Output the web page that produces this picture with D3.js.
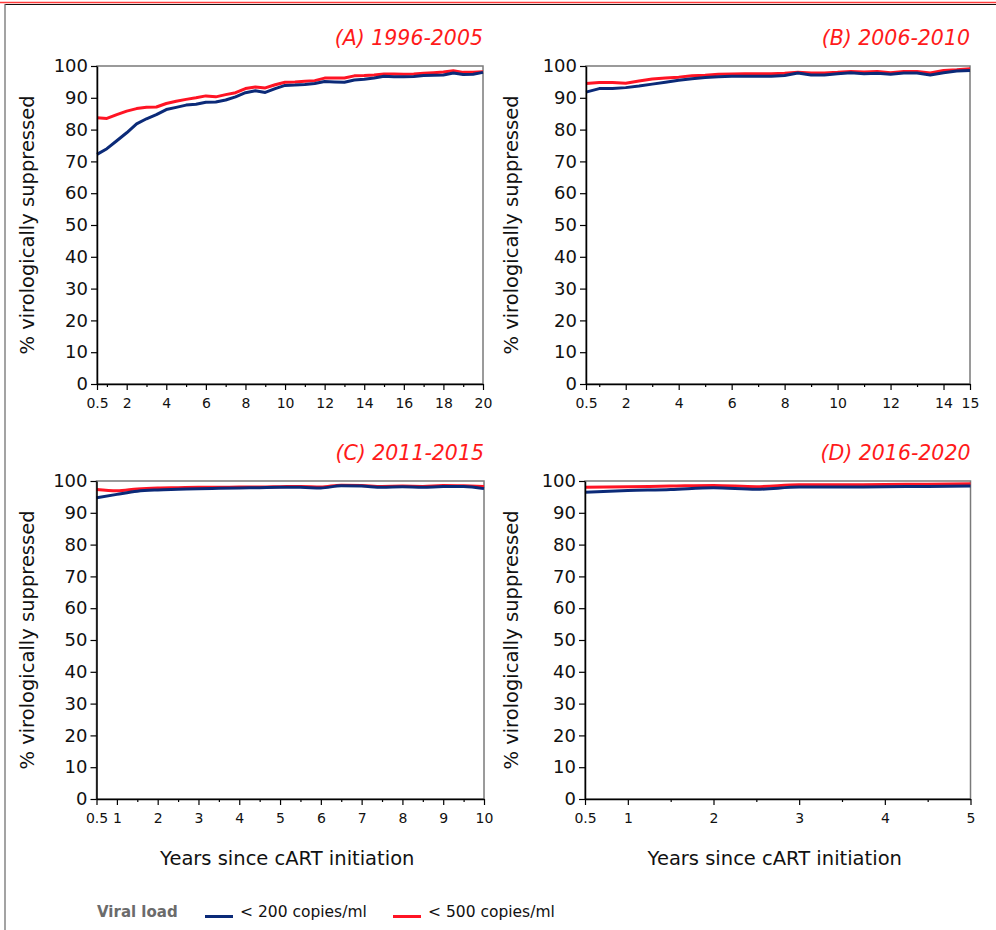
<!DOCTYPE html>
<html>
<head>
<meta charset="utf-8">
<script src="https://cdn.jsdelivr.net/npm/d3@7"></script>
<style>
  html, body { margin: 0; padding: 0; background: #fff; }
  svg { display: block; font-family: "DejaVu Sans", Verdana, sans-serif; }
</style>
</head>
<body>
<svg id="chart" width="996" height="930"></svg>
<script>
// ---- data: % virologically suppressed by years since cART initiation ----
const yearsA = [0.5, 1, 1.5, 2, 2.5, 3, 3.5, 4, 4.5, 5, 5.5, 6, 6.5, 7, 7.5, 8, 8.5, 9, 9.5, 10,
                10.5, 11, 11.5, 12, 12.5, 13, 13.5, 14, 14.5, 15, 15.5, 16, 16.5, 17, 17.5, 18, 18.5, 19, 19.5, 20];
const below200A = [72.2, 74.0, 76.5, 79.0, 81.8, 83.4, 84.7, 86.3, 87.0, 87.7, 88.0, 88.6, 88.7, 89.3, 90.3, 91.6, 92.2, 91.7, 92.9, 93.9,
                   94.0, 94.2, 94.5, 95.1, 95.0, 94.9, 95.6, 95.8, 96.2, 96.8, 96.6, 96.6, 96.7, 97.0, 97.1, 97.2, 97.8, 97.3, 97.4, 98.0];
const below500A = [83.7, 83.5, 84.7, 85.8, 86.6, 87.0, 87.1, 88.2, 88.9, 89.5, 90.0, 90.6, 90.3, 91.0, 91.6, 92.9, 93.4, 93.1, 94.1, 94.9,
                   95.0, 95.2, 95.4, 96.2, 96.2, 96.2, 96.9, 97.0, 97.2, 97.5, 97.5, 97.4, 97.5, 97.7, 97.9, 98.1, 98.5, 98.0, 98.0, 98.2];

const yearsB = [0.5, 1, 1.5, 2, 2.5, 3, 3.5, 4, 4.5, 5, 5.5, 6, 6.5, 7, 7.5, 8, 8.5, 9, 9.5, 10,
                10.5, 11, 11.5, 12, 12.5, 13, 13.5, 14, 14.5, 15];
const below200B = [91.8, 92.9, 92.9, 93.2, 93.7, 94.3, 94.9, 95.5, 96.0, 96.4, 96.6, 96.8, 96.8, 96.8, 96.8, 97.0, 97.8, 97.2, 97.2, 97.6,
                   97.9, 97.6, 97.7, 97.4, 97.8, 97.8, 97.2, 97.9, 98.4, 98.6];
const below500B = [94.5, 94.8, 94.8, 94.6, 95.3, 95.9, 96.2, 96.5, 96.9, 97.1, 97.4, 97.5, 97.6, 97.6, 97.6, 97.7, 98.0, 97.8, 97.8, 98.0,
                   98.3, 98.1, 98.3, 97.9, 98.3, 98.3, 97.8, 98.6, 98.8, 99.1];

const yearsC = [0.5, 1, 1.5, 2, 2.5, 3, 3.5, 4, 4.5, 5, 5.5, 6, 6.5, 7, 7.5, 8, 8.5, 9, 9.5, 10];
const below200C = [94.7, 95.8, 96.8, 97.2, 97.4, 97.6, 97.7, 97.8, 97.9, 98.0, 98.0, 97.8, 98.5, 98.4, 98.0, 98.2, 98.0, 98.3, 98.3, 97.6];
const below500C = [97.3, 96.9, 97.5, 97.8, 97.9, 98.0, 98.0, 98.1, 98.1, 98.2, 98.3, 98.1, 98.7, 98.6, 98.3, 98.4, 98.3, 98.6, 98.5, 98.3];

const yearsD = [0.5, 1, 1.5, 2, 2.5, 3, 3.5, 4, 4.5, 5];
const below200D = [96.5, 97.0, 97.3, 97.9, 97.4, 98.1, 98.1, 98.2, 98.3, 98.4];
const below500D = [98.0, 98.2, 98.4, 98.6, 98.2, 98.8, 98.8, 98.9, 99.0, 99.1];

// axis ticks
const yTicks = [0, 10, 20, 30, 40, 50, 60, 70, 80, 90, 100];
const majorA = [0.5, 2, 4, 6, 8, 10, 12, 14, 16, 18, 20];
const minorA = [1, 3, 5, 7, 9, 11, 13, 15, 17, 19];
const majorB = [0.5, 2, 4, 6, 8, 10, 12, 14, 15];
const minorB = [1, 3, 5, 7, 9, 11, 13];
const majorC = [0.5, 1, 2, 3, 4, 5, 6, 7, 8, 9, 10];
const minorC = [1.5, 2.5, 3.5, 4.5, 5.5, 6.5, 7.5, 8.5, 9.5];
const majorD = [0.5, 1, 2, 3, 4, 5];
const minorD = [1.5, 2.5, 3.5, 4.5];

const panelTitles = ["(A) 1996-2005", "(B) 2006-2010", "(C) 2011-2015", "(D) 2016-2020"];
const seriesNames = ["< 200 copies/ml", "< 500 copies/ml"];
const legendTitle = "Viral load";
const yTitle = "% virologically suppressed";
const xTitle = "Years since cART initiation";

// ---- styling ----
const BLUE = "#0b2a78";
const RED = "#ff1424";
const seriesColors = [BLUE, RED];

const panels = [
  { title: panelTitles[0], x: yearsA, s200: below200A, s500: below500A, major: majorA, minor: minorA,
    left: 97, right: 483, top: 66, bottom: 384, curve: d3.curveLinear, xLabel: false, yTitleX: 34 },
  { title: panelTitles[1], x: yearsB, s200: below200B, s500: below500B, major: majorB, minor: minorB,
    left: 586, right: 970, top: 66, bottom: 384, curve: d3.curveLinear, xLabel: false, yTitleX: 518 },
  { title: panelTitles[2], x: yearsC, s200: below200C, s500: below500C, major: majorC, minor: minorC,
    left: 96.5, right: 484, top: 481, bottom: 799, curve: d3.curveMonotoneX, xLabel: true, yTitleX: 34 },
  { title: panelTitles[3], x: yearsD, s200: below200D, s500: below500D, major: majorD, minor: minorD,
    left: 585, right: 970.5, top: 481, bottom: 799, curve: d3.curveMonotoneX, xLabel: true, yTitleX: 518 }
];

const svg = d3.select("#chart");

// page frame: red rule and black rule at top, grey rule on the left
svg.append("line").attr("x1", 0).attr("x2", 996).attr("y1", 2.5).attr("y2", 2.5)
  .attr("stroke", "#ff3b3b").attr("stroke-width", 1.5);
svg.append("line").attr("x1", 5).attr("x2", 996).attr("y1", 4.5).attr("y2", 4.5)
  .attr("stroke", "#111").attr("stroke-width", 1);
svg.append("line").attr("x1", 5).attr("x2", 5).attr("y1", 4).attr("y2", 930)
  .attr("stroke", "#666").attr("stroke-width", 1.2);

panels.forEach(p => {
  const x = d3.scaleLinear().domain([p.major[0], p.major[p.major.length - 1]]).range([p.left, p.right]);
  const y = d3.scaleLinear().domain([0, 100]).range([p.bottom, p.top]);
  const g = svg.append("g");

  // plot frame
  g.append("rect").attr("x", p.left).attr("y", p.top)
    .attr("width", p.right - p.left).attr("height", p.bottom - p.top)
    .attr("fill", "none").attr("stroke", "#7a7a7a").attr("stroke-width", 1.5);

  // series lines
  const rows = p.x.map((t, i) => ({ t, a: p.s200[i], b: p.s500[i] }));
  const lineA = d3.line().x(d => x(d.t)).y(d => y(d.a)).curve(p.curve);
  const lineB = d3.line().x(d => x(d.t)).y(d => y(d.b)).curve(p.curve);
  g.append("path").datum(rows).attr("d", lineB).attr("fill", "none")
    .attr("stroke", RED).attr("stroke-width", 3).attr("stroke-linejoin", "round");
  g.append("path").datum(rows).attr("d", lineA).attr("fill", "none")
    .attr("stroke", BLUE).attr("stroke-width", 3).attr("stroke-linejoin", "round");

  // y axis
  const ya = g.append("g").attr("transform", `translate(${p.left},0)`)
    .call(d3.axisLeft(y).tickValues(yTicks).tickSize(6).tickPadding(3).tickSizeOuter(0));
  ya.select(".domain").attr("stroke", "#000").attr("stroke-width", 1.5);
  ya.selectAll(".tick line").attr("stroke", "#000").attr("stroke-width", 1.2);
  ya.selectAll(".tick text").attr("font-size", 18).attr("fill", "#111")
    .attr("font-family", "'DejaVu Sans', Verdana, sans-serif");

  // x axis: minor then major ticks
  const xm = g.append("g").attr("transform", `translate(0,${p.bottom})`)
    .call(d3.axisBottom(x).tickValues(p.minor).tickSize(3).tickFormat("").tickSizeOuter(0));
  xm.select(".domain").remove();
  xm.selectAll(".tick line").attr("stroke", "#000").attr("stroke-width", 1.2);

  const xa = g.append("g").attr("transform", `translate(0,${p.bottom})`)
    .call(d3.axisBottom(x).tickValues(p.major).tickSize(6).tickPadding(8).tickSizeOuter(0)
      .tickFormat(d => String(d)));
  xa.select(".domain").attr("stroke", "#000").attr("stroke-width", 1.5);
  xa.selectAll(".tick line").attr("stroke", "#000").attr("stroke-width", 1.2);
  xa.selectAll(".tick text").attr("font-size", 14).attr("fill", "#111")
    .attr("font-family", "'DejaVu Sans', Verdana, sans-serif");

  // panel title
  g.append("text").attr("x", p.right).attr("y", p.top - 21)
    .attr("text-anchor", "end").attr("font-size", 20.5).attr("font-style", "italic")
    .attr("fill", "#ff1a1a").text(p.title);

  // y axis title
  const cy = (p.top + p.bottom) / 2;
  g.append("text").attr("transform", `translate(${p.yTitleX},${cy}) rotate(-90)`)
    .attr("text-anchor", "middle").attr("font-size", 19.5).attr("fill", "#111").text(yTitle);

  // x axis title
  if (p.xLabel) {
    g.append("text").attr("x", (p.left + p.right) / 2 - 3).attr("y", p.bottom + 66)
      .attr("text-anchor", "middle").attr("font-size", 19.5).attr("fill", "#111").text(xTitle);
  }
});

// legend
const lg = svg.append("g").attr("transform", "translate(0,917)");
lg.append("text").attr("x", 97).attr("y", 0).attr("font-size", 15).attr("font-weight", "bold")
  .attr("fill", "#6b6b6b").text(legendTitle);
const legendX = [205, 393];
seriesNames.forEach((name, i) => {
  lg.append("line").attr("x1", legendX[i]).attr("x2", legendX[i] + 28).attr("y1", -0.5).attr("y2", -0.5)
    .attr("stroke", seriesColors[i]).attr("stroke-width", 3);
  lg.append("text").attr("x", legendX[i] + 35).attr("y", 0).attr("font-size", 15.5)
    .attr("fill", "#111").text(name);
});
</script>
</body>
</html>
